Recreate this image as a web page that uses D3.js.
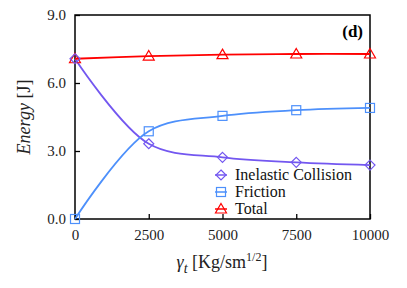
<!DOCTYPE html>
<html>
<head>
<meta charset="utf-8">
<script src="https://cdn.jsdelivr.net/npm/d3@7"></script>
</head>
<body style="margin:0">
<script>
var w=407;
var h=288;
var margin={left:75,right:37,top:15,bottom:69};
var serif="'Times New Roman'";

// data
var xs=[0,2500,5000,7500,10000];
var inelastic=[7.07,3.32,2.72,2.50,2.38];
var friction=[0.0,3.87,4.55,4.80,4.90];
var total=[7.07,7.19,7.25,7.28,7.28];
var xTicks=[0,2500,5000,7500,10000];
var yTicks=[0,3,6,9];

var series=[
	{name:"Inelastic Collision",values:inelastic,color:"#7357f0",marker:"diamond"},
	{name:"Friction",values:friction,color:"#4d90fb",marker:"square"},
	{name:"Total",values:total,color:"#ff0000",marker:"triangle"}
];

var svg=d3.select("body").append("svg")
	.attr("width",w).attr("height",h);

var x=d3.scaleLinear().domain([0,10000]).range([margin.left,w-margin.right]);
var y=d3.scaleLinear().domain([0,9]).range([h-margin.bottom,margin.top]);

var drawMarker=function(sel,type,color){
	if(type=="diamond"){
		sel.append("path").attr("d","M0,-5L5,0L0,5L-5,0Z");
	}else if(type=="square"){
		sel.append("rect").attr("x",-4.5).attr("y",-4.5).attr("width",9).attr("height",9);
	}else{
		sel.append("path").attr("d","M0,-5.5L5.5,4L-5.5,4Z");
	}
	sel.selectAll("path,rect").attr("fill","none").attr("stroke",color).attr("stroke-width",1.2);
}

// axes, ticks inward
var xAxis=d3.axisBottom(x).tickValues(xTicks).tickSizeInner(-5).tickSizeOuter(0).tickPadding(10).tickFormat(d3.format("d"));
var yAxis=d3.axisLeft(y).tickValues(yTicks).tickSizeInner(-5).tickSizeOuter(0).tickPadding(9).tickFormat(d3.format(".1f"));

var gx=svg.append("g").attr("transform","translate(0,"+(h-margin.bottom)+")").call(xAxis);
var gy=svg.append("g").attr("transform","translate("+margin.left+",0)").call(yAxis);
[gx,gy].forEach(function(g){
	g.select(".domain").remove();
	g.selectAll("line").attr("stroke","#000").attr("stroke-width",1.3);
	g.selectAll("text").style("font-family",serif).attr("font-size",15).attr("fill","#222");
});

svg.append("rect")
	.attr("x",margin.left).attr("y",margin.top)
	.attr("width",w-margin.left-margin.right).attr("height",h-margin.top-margin.bottom)
	.attr("fill","none").attr("stroke","#000").attr("stroke-width",1.5);

var line=d3.line()
	.x(function(d,i){return x(xs[i]);})
	.y(function(d){return y(d);})
	.curve(d3.curveCatmullRom.alpha(0.5));

series.forEach(function(s){
	svg.append("path").datum(s.values)
		.attr("d",line).attr("fill","none")
		.attr("stroke",s.color).attr("stroke-width",1.8);
});
series.slice().reverse().forEach(function(s){
	s.values.forEach(function(v,i){
		var g=svg.append("g").attr("transform","translate("+x(xs[i])+","+y(v)+")");
		drawMarker(g,s.marker,s.color);
	});
});

// legend
var leg=svg.append("g");
series.forEach(function(s,i){
	var ly=175+i*17;
	leg.append("line").attr("x1",215).attr("x2",227).attr("y1",ly).attr("y2",ly)
		.attr("stroke",s.color).attr("stroke-width",1.5);
	var mg=leg.append("g").attr("transform","translate(221,"+ly+")");
	drawMarker(mg,s.marker,s.color);
	leg.append("text").style("font-family",serif).attr("x",235).attr("y",ly+5)
		.attr("font-size",16).attr("fill","#111").text(s.name);
});

// panel label
svg.append("text").style("font-family",serif).attr("x",363).attr("y",37).attr("text-anchor","end")
	.attr("font-size",17).attr("font-weight","bold").text("(d)");

// y title
var yt=svg.append("text").style("font-family",serif)
	.attr("transform","translate(30,"+(margin.top+(h-margin.top-margin.bottom)/2)+") rotate(-90)")
	.attr("text-anchor","middle").attr("font-size",18).attr("fill","#222");
yt.append("tspan").attr("font-style","italic").text("Energy");
yt.append("tspan").text("  [J]");

// x title
var xt=svg.append("text").style("font-family",serif).attr("x",222).attr("y",268).attr("text-anchor","middle")
	.attr("font-size",18).attr("fill","#222");
xt.append("tspan").attr("font-style","italic").text("γ");
xt.append("tspan").attr("font-style","italic").attr("font-size",14).attr("dy",5).text("t");
xt.append("tspan").attr("dy",-5).text("  [Kg/sm");
xt.append("tspan").attr("font-size",12).attr("dy",-7).text("1/2");
xt.append("tspan").attr("dy",7).text("]");
</script>
</body>
</html>
